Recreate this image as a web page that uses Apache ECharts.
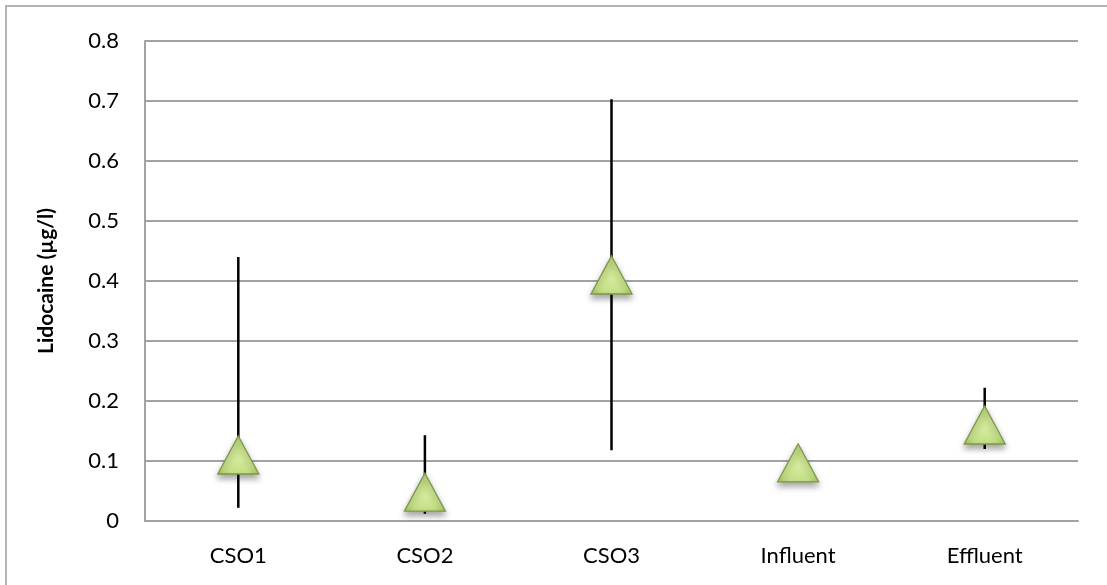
<!DOCTYPE html>
<html>
<head>
<meta charset="utf-8">
<script src="https://cdn.jsdelivr.net/npm/echarts@6/dist/echarts.min.js"></script>
<style>
  html, body { margin: 0; padding: 0; background: #fff; }
  #chart { width: 1107px; height: 585px; }
</style>
</head>
<body>
<div id="chart"></div>
<script>
// Sampling sites along the x axis
const categories = ['CSO1', 'CSO2', 'CSO3', 'Influent', 'Effluent'];
// Mean lidocaine concentration per site (µg/l)
const meanValues = [0.11, 0.048, 0.41, 0.097, 0.16];
// Range of measurements per site (null = no range shown)
const rangeLow  = [0.022, 0.012, 0.118, null, 0.12];
const rangeHigh = [0.44, 0.143, 0.703, null, 0.222];
// Y axis scale
const yMin = 0, yMax = 0.8, yStep = 0.1;

const FONT = 'Lato, "Open Sans", sans-serif';
const GRID_GRAY = '#a3a3a3';

const rangeData = categories.map((c, i) => [i, rangeLow[i], rangeHigh[i]])
  .filter(d => d[1] !== null && d[2] !== null);

const chart = echarts.init(document.getElementById('chart'), null, { renderer: 'canvas' });

chart.setOption({
  animation: false,
  backgroundColor: '#fff',
  graphic: [{
    type: 'polyline',
    shape: { points: [[6, 600], [6, 6], [1120, 6]] },
    style: { stroke: '#b4b4b4', lineWidth: 2, fill: null },
    silent: true
  }],
  grid: { left: 145, right: 29, top: 41, bottom: 64 },
  xAxis: {
    type: 'category',
    data: categories,
    axisLine: { show: true, lineStyle: { color: GRID_GRAY, width: 2 } },
    axisTick: { show: false },
    axisLabel: { color: '#000', fontFamily: FONT, fontSize: 22, margin: 24 },
    splitLine: { show: false }
  },
  yAxis: {
    type: 'value',
    min: yMin, max: yMax, interval: yStep,
    name: 'Lidocaine (µg/l)',
    nameLocation: 'middle',
    nameGap: 88,
    nameTextStyle: { color: '#000', fontFamily: FONT, fontSize: 21, fontWeight: 'bold' },
    axisLine: { show: true, lineStyle: { color: GRID_GRAY, width: 2 } },
    axisTick: { show: false },
    axisLabel: {
      color: '#000', fontFamily: FONT, fontSize: 22, margin: 26,
      formatter: v => (Math.round(v * 10) / 10).toString()
    },
    splitLine: { show: true, lineStyle: { color: GRID_GRAY, width: 2 } }
  },
  series: [
    {
      // vertical range lines
      type: 'custom',
      z: 2,
      data: rangeData,
      renderItem: (params, api) => {
        const x = api.value(0);
        const lo = api.coord([x, api.value(1)]);
        const hi = api.coord([x, api.value(2)]);
        return {
          type: 'line',
          shape: { x1: lo[0], y1: lo[1], x2: hi[0], y2: hi[1] },
          style: { stroke: '#000', lineWidth: 2.5 }
        };
      }
    },
    {
      type: 'scatter',
      z: 3,
      data: meanValues,
      symbol: 'triangle',
      symbolSize: [41, 38],
      itemStyle: {
        opacity: 1,
        color: new echarts.graphic.RadialGradient(0.5, 0.6, 0.6, [
          { offset: 0, color: '#d4ea9c' },
          { offset: 0.7, color: '#c2de84' },
          { offset: 1, color: '#adcd6a' }
        ]),
        borderColor: '#7d9848',
        borderWidth: 1.3,
        shadowColor: 'rgba(0,0,0,0.35)',
        shadowBlur: 6,
        shadowOffsetY: 4
      }
    }
  ]
});
</script>
</body>
</html>
